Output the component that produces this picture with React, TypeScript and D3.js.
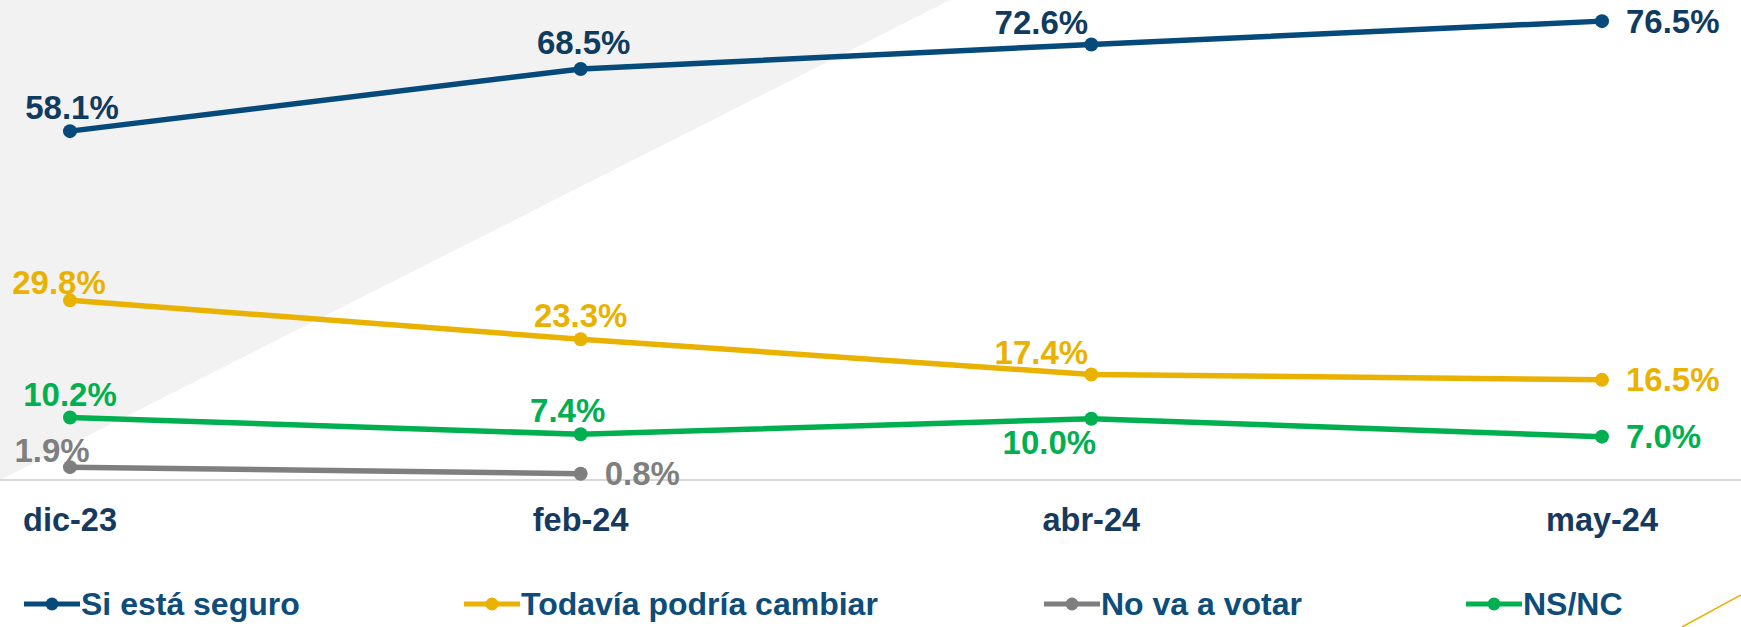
import React from "react";
import * as d3 from "d3";

const categories = ["dic-23", "feb-24", "abr-24", "may-24"];
const seriesNames = ["Si está seguro", "Todavía podría cambiar", "No va a votar", "NS/NC"];
const seguro = [58.1, 68.5, 72.6, 76.5];
const cambiar = [29.8, 23.3, 17.4, 16.5];
const noVota: (number | null)[] = [1.9, 0.8, null, null];
const nsnc = [10.2, 7.4, 10.0, 7.0];
const seriesColors = ["#054A7A", "#EAB200", "#7F7F7F", "#00B050"];
const labelColors = ["#0F3B5F", "#EAB200", "#7F7F7F", "#00B050"];

// label placement per point: [kind, dx, dy]
type Place = [string, number, number];
const seguroPos: Place[] = [["above", 2, 0], ["above", 3, -3], ["aboveLeft", 0, 0], ["right", 0, 0]];
const cambiarPos: Place[] = [["above", -11, 6], ["above", 0, 0], ["aboveLeft", 0, 0], ["right", 0, 0]];
const noVotaPos: Place[] = [["above", -18, 7], ["right", 0, 0], ["", 0, 0], ["", 0, 0]];
const nsncPos: Place[] = [["above", 0, 0], ["above", -13, 0], ["below", 0, 0], ["right", 0, 0]];

const W = 1741;
const H = 627;

export default function App() {
  const x = d3.scalePoint<string>().domain(categories).range([70, 1602]);
  const y = d3.scaleLinear().domain([0, 80]).range([478.5, 0.2]);
  const data = [seguro, cambiar, noVota, nsnc];
  const positions = [seguroPos, cambiarPos, noVotaPos, nsncPos];
  const line = d3
    .line<number | null>()
    .defined((d) => d !== null)
    .x((_, i) => x(categories[i]) as number)
    .y((d) => y(d as number));

  const legendX = [24, 464, 1044, 1466];
  const legendY = 604;

  return (
    <svg
      width={W}
      height={H}
      style={{ position: "absolute", left: 0, top: 0, background: "#fff" }}
      fontFamily="'Liberation Sans', Arial, sans-serif"
    >
      <polygon points={`0,0 950,0 0,480`} fill="#F2F2F2" />
      <line x1={0} x2={W} y1={480} y2={480} stroke="#D9D9D9" strokeWidth={2} />
      <line x1={1682} y1={627} x2={1741} y2={595} stroke="#EAB200" strokeWidth={1.5} />
      {categories.map((c) => (
        <text
          key={c}
          x={x(c)}
          y={531}
          textAnchor="middle"
          fontSize={32.5}
          fontWeight="bold"
          fill="#163A5F"
        >
          {c}
        </text>
      ))}
      {data.map((s, si) => (
        <g key={si}>
          <path d={line(s) || ""} fill="none" stroke={seriesColors[si]} strokeWidth={5.5} />
          {s.map((v, i) =>
            v === null ? null : (
              <circle key={i} cx={x(categories[i])} cy={y(v)} r={7} fill={seriesColors[si]} />
            )
          )}
        </g>
      ))}
      {data.map((s, si) =>
        s.map((v, i) => {
          if (v === null) return null;
          const px = x(categories[i]) as number;
          const py = y(v);
          const [pos, ox, oy] = positions[si][i];
          let tx = px;
          let ty = py - 12;
          let anchor: "start" | "middle" | "end" = "middle";
          let dy = "0";
          if (pos === "right") {
            tx = px + 24;
            ty = py;
            anchor = "start";
            dy = "0.35em";
          } else if (pos === "below") {
            tx = px - 42;
            ty = py + 12;
            dy = "0.72em";
          } else if (pos === "aboveLeft") {
            tx = px - 50;
            ty = py - 10;
          }
          return (
            <text
              key={`${si}-${i}`}
              x={tx + ox}
              y={ty + oy}
              dy={dy}
              textAnchor={anchor}
              fontSize={33}
              fontWeight="bold"
              fill={labelColors[si]}
            >
              {`${v.toFixed(1)}%`}
            </text>
          );
        })
      )}
      {seriesNames.map((n, i) => (
        <g key={n} transform={`translate(${legendX[i]},${legendY})`}>
          <line x1={0} x2={56} y1={0} y2={0} stroke={seriesColors[i]} strokeWidth={5} />
          <circle cx={28} cy={0} r={6.5} fill={seriesColors[i]} />
          <text x={57} y={0} dy="0.35em" fontSize={32} fontWeight="bold" fill="#0E4C7A">
            {n}
          </text>
        </g>
      ))}
    </svg>
  );
}
